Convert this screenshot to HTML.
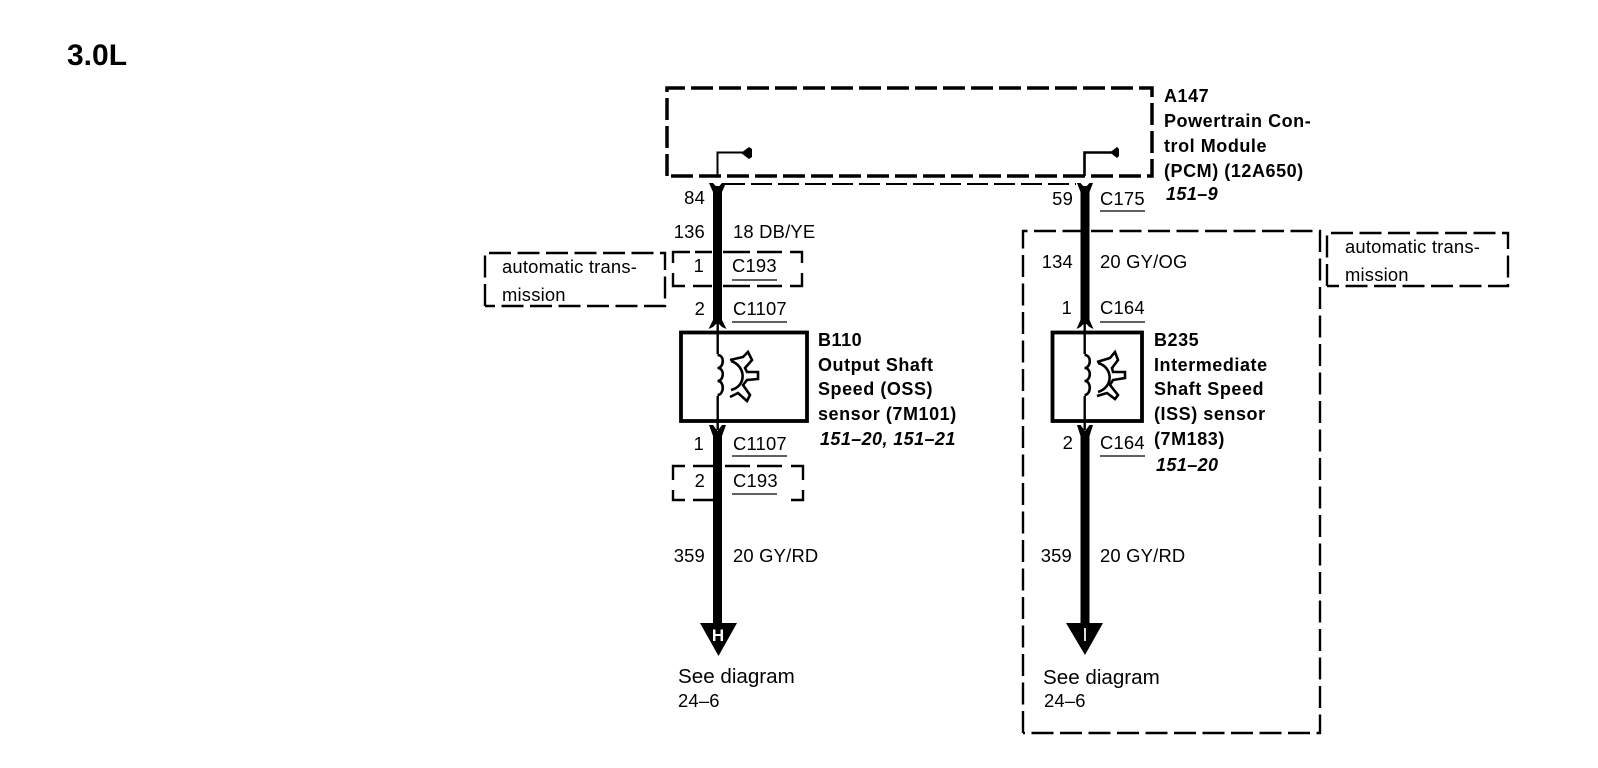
<!DOCTYPE html>
<html>
<head>
<meta charset="utf-8">
<style>
html,body{margin:0;padding:0;background:#fff;}
svg{display:block;}
text{font-family:"Liberation Sans",sans-serif;font-size:18.4px;letter-spacing:.2px;fill:#000;}
.b{font-weight:bold;font-size:18px;letter-spacing:.55px;}
.bi{font-weight:bold;font-style:italic;font-size:18px;letter-spacing:.4px;}
.e{text-anchor:end;}
.sd{font-size:20.6px;letter-spacing:0;}
.thick{fill:none;stroke:#000;stroke-width:3.5;stroke-dasharray:22 6;}
.thin{fill:none;stroke:#000;stroke-width:2.4;stroke-dasharray:22 6.5;}
.seg{fill:none;stroke:#000;stroke-width:2.4;}
.ul{stroke:#000;stroke-width:1.3;}
</style>
</head>
<body>
<svg width="1598" height="768" viewBox="0 0 1598 768" xmlns="http://www.w3.org/2000/svg">
<rect width="1598" height="768" fill="#fff"/>
<text x="67" y="65" style="font-weight:bold;font-size:30px;letter-spacing:0">3.0L</text>

<!-- PCM dashed box -->
<path class="thick" d="M667 176 V88 H1152 V176 H667"/>
<path d="M724 184 H1076" fill="none" stroke="#000" stroke-width="2" stroke-dasharray="21 6"/>

<!-- big dashed box and auto boxes -->
<path class="thin" d="M1023 733 V231 H1320 V733 H1023"/>
<path class="thin" d="M485 306 V253 H665 V306 H485"/>
<path class="thin" d="M1327 286 V233 H1508 V286 H1327"/>

<!-- C193 upper -->
<path class="seg" d="M673 263 V252 H690 M695 252 H712 M723 252 H750 M757 252 H782 M790 252 H802 V263 M802 273 V286 H790 M782 286 H757 M750 286 H723 M712 286 H693 M685 286 H673 V273"/>
<!-- C193 lower -->
<path class="seg" d="M673 480 V466 H685 M693 466 H713 M725 466 H750 M757 466 H782 M791 466 H803 V480 M803 490 V500 H791 M673 490 V500 H685 M693 500 H713"/>

<!-- wire 1 -->
<path d="M717.5 176 V152.5 H745" fill="none" stroke="#000" stroke-width="2"/>
<path d="M741 153 L749 147 L752 149 V157 L749 159 Z" fill="#000"/>
<rect x="713" y="186" width="9" height="136" fill="#000"/>
<path d="M709 183 H713 L717.5 188 L722 183 H726 L722 192 H713 Z" fill="#000"/>
<path d="M708.5 329 L713 320 H722 L726.5 329 L722 327 L719 324 H716 L713 327 Z" fill="#000"/>
<rect x="716.5" y="322" width="2.4" height="108" fill="#000"/>
<rect x="681" y="332.5" width="126" height="88.5" fill="none" stroke="#000" stroke-width="3.8"/>
<path d="M709 425 H713 L717.5 431 L722 425 H726 L722 436 H713 Z" fill="#000"/>
<rect x="713" y="432" width="9" height="195" fill="#000"/>
<path d="M700 623 H737 L718.5 656 Z" fill="#000"/>
<text x="718" y="641" text-anchor="middle" style="font-weight:bold;font-size:17px;letter-spacing:0;fill:#fff">H</text>

<!-- coil + rotor, sensor 1 -->
<g fill="none" stroke="#000" stroke-width="2.6">
<rect x="714" y="354" width="8" height="42" fill="#fff" stroke="none"/>
<path d="M717.5 355 C725 355 724 368 717.5 368 C725 368 724 381 717.5 381 C725 381 724 395 717.5 395"/>
<path d="M731 361 C746 366 747 386 731 390"/>
<path d="M730 360 L743 357 L748 352 L752 360 L745 368 L747 372 L758 372 L758 379 L747 380 L743 385 L750 395 L747 401 L738 393 L730 397"/>
</g>

<!-- wire 2 -->
<path d="M1084.5 176 V152.5 H1114" fill="none" stroke="#000" stroke-width="2.6"/>
<path d="M1110 152.5 L1117 147 L1119 149 V156 L1117 158 Z" fill="#000"/>
<rect x="1080.5" y="186" width="9" height="136" fill="#000"/>
<path d="M1077 183 H1080.5 L1085 188 L1089.5 183 H1093 L1089.5 192 H1080.5 Z" fill="#000"/>
<path d="M1076.5 329 L1080.5 320 H1089.5 L1093.5 329 L1089.5 327 L1086.5 324 H1083.5 L1080.5 327 Z" fill="#000"/>
<rect x="1083.5" y="322" width="2.4" height="108" fill="#000"/>
<rect x="1052.5" y="332.5" width="89.5" height="88.5" fill="none" stroke="#000" stroke-width="3.8"/>
<path d="M1077 425 H1080.5 L1085 431 L1089.5 425 H1093 L1089.5 436 H1080.5 Z" fill="#000"/>
<rect x="1080.5" y="432" width="9" height="195" fill="#000"/>
<path d="M1066 623 H1103 L1085 655 Z" fill="#000"/>
<text x="1085" y="641" text-anchor="middle" style="font-size:18px;letter-spacing:0;fill:#fff">I</text>

<!-- coil + rotor, sensor 2 -->
<g fill="none" stroke="#000" stroke-width="2.6">
<rect x="1081" y="354" width="8" height="42" fill="#fff" stroke="none"/>
<path d="M1084.5 355 C1092 355 1091 368 1084.5 368 C1092 368 1091 381 1084.5 381 C1092 381 1091 395 1084.5 395"/>
<path d="M1098 363 C1113 367 1114 387 1098 392"/>
<path d="M1097 362 L1110 358 L1115 352 L1118 360 L1112 368 L1113 372 L1125 372 L1125 378 L1113 380 L1110 385 L1118 395 L1115 399 L1107 393 L1097 396"/>
</g>

<!-- wire 1 labels -->
<text class="e" x="705" y="204">84</text>
<text class="e" x="705" y="238">136</text>
<text x="733" y="238">18 DB/YE</text>
<text class="e" x="704" y="272">1</text>
<text x="732" y="272">C193</text>
<line class="ul" x1="732" y1="280" x2="777" y2="280"/>
<text class="e" x="705" y="315">2</text>
<text x="733" y="315">C1107</text>
<line class="ul" x1="732" y1="322" x2="787" y2="322"/>
<text class="e" x="704" y="450">1</text>
<text x="733" y="450">C1107</text>
<line class="ul" x1="732" y1="456" x2="787" y2="456"/>
<text class="e" x="705" y="487">2</text>
<text x="733" y="487">C193</text>
<line class="ul" x1="732" y1="494" x2="777" y2="494"/>
<text class="e" x="705" y="562">359</text>
<text x="733" y="562">20 GY/RD</text>
<text class="sd" x="678" y="683">See diagram</text>
<text x="678" y="707">24–6</text>

<!-- wire 2 labels -->
<text class="e" x="1073" y="205">59</text>
<text x="1100" y="205">C175</text>
<line class="ul" x1="1100" y1="211" x2="1145" y2="211"/>
<text class="e" x="1073" y="268">134</text>
<text x="1100" y="268">20 GY/OG</text>
<text class="e" x="1072" y="314">1</text>
<text x="1100" y="314">C164</text>
<line class="ul" x1="1100" y1="322" x2="1145" y2="322"/>
<text class="e" x="1073" y="449">2</text>
<text x="1100" y="449">C164</text>
<line class="ul" x1="1100" y1="456" x2="1145" y2="456"/>
<text class="e" x="1072" y="562">359</text>
<text x="1100" y="562">20 GY/RD</text>
<text class="sd" x="1043" y="684">See diagram</text>
<text x="1044" y="707">24–6</text>

<!-- automatic transmission -->
<text x="502" y="273">automatic trans-</text>
<text x="502" y="301">mission</text>
<text x="1345" y="253">automatic trans-</text>
<text x="1345" y="281">mission</text>

<!-- A147 -->
<text class="b" x="1164" y="102">A147</text>
<text class="b" x="1164" y="127">Powertrain Con-</text>
<text class="b" x="1164" y="152">trol Module</text>
<text class="b" x="1164" y="177">(PCM) (12A650)</text>
<text class="bi" x="1166" y="200">151–9</text>

<!-- B110 -->
<text class="b" x="818" y="346">B110</text>
<text class="b" x="818" y="371">Output Shaft</text>
<text class="b" x="818" y="395">Speed (OSS)</text>
<text class="b" x="818" y="420">sensor (7M101)</text>
<text class="bi" x="820" y="445">151–20, 151–21</text>

<!-- B235 -->
<text class="b" x="1154" y="346">B235</text>
<text class="b" x="1154" y="371">Intermediate</text>
<text class="b" x="1154" y="395">Shaft Speed</text>
<text class="b" x="1154" y="420">(ISS) sensor</text>
<text class="b" x="1154" y="445">(7M183)</text>
<text class="bi" x="1156" y="471">151–20</text>
</svg>
</body>
</html>
